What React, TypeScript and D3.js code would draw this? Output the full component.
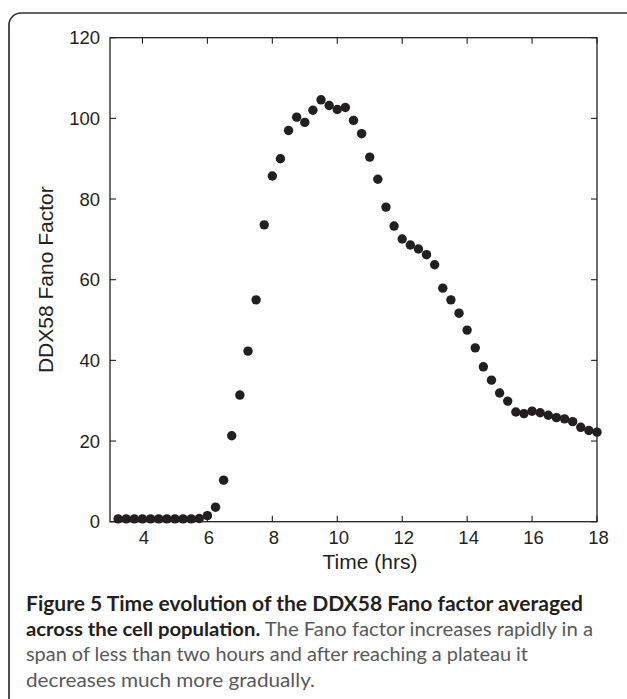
import React from "react";
import * as d3 from "d3";

const times = [
  3.25, 3.5, 3.75, 4.0, 4.25, 4.5, 4.75, 5.0, 5.25, 5.5, 5.75,
  6.0, 6.25, 6.5, 6.75, 7.0, 7.25, 7.5, 7.75, 8.0, 8.25, 8.5, 8.75,
  9.0, 9.25, 9.5, 9.75, 10.0, 10.25, 10.5, 10.75, 11.0, 11.25, 11.5, 11.75,
  12.0, 12.25, 12.5, 12.75, 13.0, 13.25, 13.5, 13.75, 14.0, 14.25, 14.5, 14.75,
  15.0, 15.25, 15.5, 15.75, 16.0, 16.25, 16.5, 16.75, 17.0, 17.25, 17.5, 17.75, 18.0,
];
const fano = [
  0.7, 0.7, 0.7, 0.7, 0.7, 0.7, 0.7, 0.7, 0.7, 0.7, 0.8,
  1.5, 3.6, 10.3, 21.3, 31.4, 42.3, 55.0, 73.6, 85.7, 90.0, 97.0, 100.3,
  99.0, 102.0, 104.6, 103.2, 102.2, 102.7, 99.5, 96.2, 90.4, 84.9, 78.0, 73.3,
  70.1, 68.6, 67.6, 66.2, 63.7, 57.9, 55.0, 51.7, 47.5, 43.1, 38.4, 35.1,
  31.9, 29.9, 27.2, 26.8, 27.4, 27.0, 26.4, 25.8, 25.5, 24.8, 23.4, 22.6, 22.2,
];
const xTicks = [4, 6, 8, 10, 12, 14, 16, 18];
const yTicks = [0, 20, 40, 60, 80, 100, 120];
const xDomain = [3, 18];
const yDomain = [0, 120];
const xLabel = "Time (hrs)";
const yLabel = "DDX58 Fano Factor";
const captionBold1 = "Figure 5 Time evolution of the DDX58 Fano factor averaged";
const captionBold2 = "across the cell population.";
const captionReg2 = " The Fano factor increases rapidly in a";
const captionReg3 = "span of less than two hours and after reaching a plateau it";
const captionReg4 = "decreases much more gradually.";

export default function App() {
  const W = 627;
  const H = 699;
  const left = 110, right = 597, top = 37.7, bottom = 521.7;
  const x = d3.scaleLinear().domain(xDomain).range([left, right]);
  const y = d3.scaleLinear().domain(yDomain).range([bottom, top]);
  const ink = "#231f20";
  const tickLen = 6;
  const font = "'Liberation Sans', Arial, Helvetica, sans-serif";
  const capFont = "Lato, 'Open Sans', sans-serif";
  const capSize = 19.5;
  const data = times.map((t, i) => ({ t, v: fano[i] }));

  return (
    <svg
      width={W}
      height={H}
      viewBox={`0 0 ${W} ${H}`}
      style={{ position: "absolute", left: 0, top: 0, background: "#fff" }}
    >
      {/* figure frame */}
      <rect x={9} y={13} width={640} height={720} rx={12} ry={12} fill="none" stroke="#333" strokeWidth={1.7} />

      {/* axes box */}
      <rect x={left} y={top} width={right - left} height={bottom - top} fill="none" stroke={ink} strokeWidth={1.3} />

      {/* x ticks */}
      {xTicks.map((t) => (
        <g key={"xt" + t}>
          <line x1={x(t)} x2={x(t)} y1={bottom} y2={bottom - tickLen} stroke={ink} strokeWidth={1.1} />
          <line x1={x(t)} x2={x(t)} y1={top} y2={top + tickLen} stroke={ink} strokeWidth={1.1} />
          <text x={x(t) + 1.5} y={543.5} textAnchor="middle" fontFamily={font} fontSize={18.5} fill={ink}>
            {t}
          </text>
        </g>
      ))}

      {/* y ticks */}
      {yTicks.map((v) => (
        <g key={"yt" + v}>
          <line x1={left} x2={left + tickLen} y1={y(v)} y2={y(v)} stroke={ink} strokeWidth={1.1} />
          <line x1={right} x2={right - tickLen} y1={y(v)} y2={y(v)} stroke={ink} strokeWidth={1.1} />
          <text x={100} y={y(v) + 6.6} textAnchor="end" fontFamily={font} fontSize={18.5} fill={ink}>
            {v}
          </text>
        </g>
      ))}

      {/* points */}
      {data.map((d, i) => (
        <circle key={i} cx={x(d.t)} cy={y(d.v)} r={4.7} fill={ink} />
      ))}

      {/* axis titles */}
      <text x={370} y={569} textAnchor="middle" fontFamily={font} fontSize={21} fill={ink}>
        {xLabel}
      </text>
      <text
        transform={`translate(53, ${(top + bottom) / 2}) rotate(-90)`}
        textAnchor="middle"
        fontFamily={font}
        fontSize={21}
        fill={ink}
      >
        {yLabel}
      </text>

      {/* caption */}
      <text x={26} y={611} fontFamily={capFont} fontSize={capSize + 1} fontWeight={700} fill={ink} textLength={557} lengthAdjust="spacingAndGlyphs">
        {captionBold1}
      </text>
      <text x={26} y={636} fontFamily={capFont} fontSize={capSize} fill="#58595b" textLength={567} lengthAdjust="spacingAndGlyphs">
        <tspan fontWeight={700} fill={ink}>{captionBold2}</tspan>
        <tspan fontWeight={400}>{captionReg2}</tspan>
      </text>
      <text x={26} y={661} fontFamily={capFont} fontSize={capSize} fill="#58595b" textLength={502} lengthAdjust="spacingAndGlyphs">
        {captionReg3}
      </text>
      <text x={26} y={687} fontFamily={capFont} fontSize={capSize} fill="#58595b" textLength={289} lengthAdjust="spacingAndGlyphs">
        {captionReg4}
      </text>
    </svg>
  );
}
